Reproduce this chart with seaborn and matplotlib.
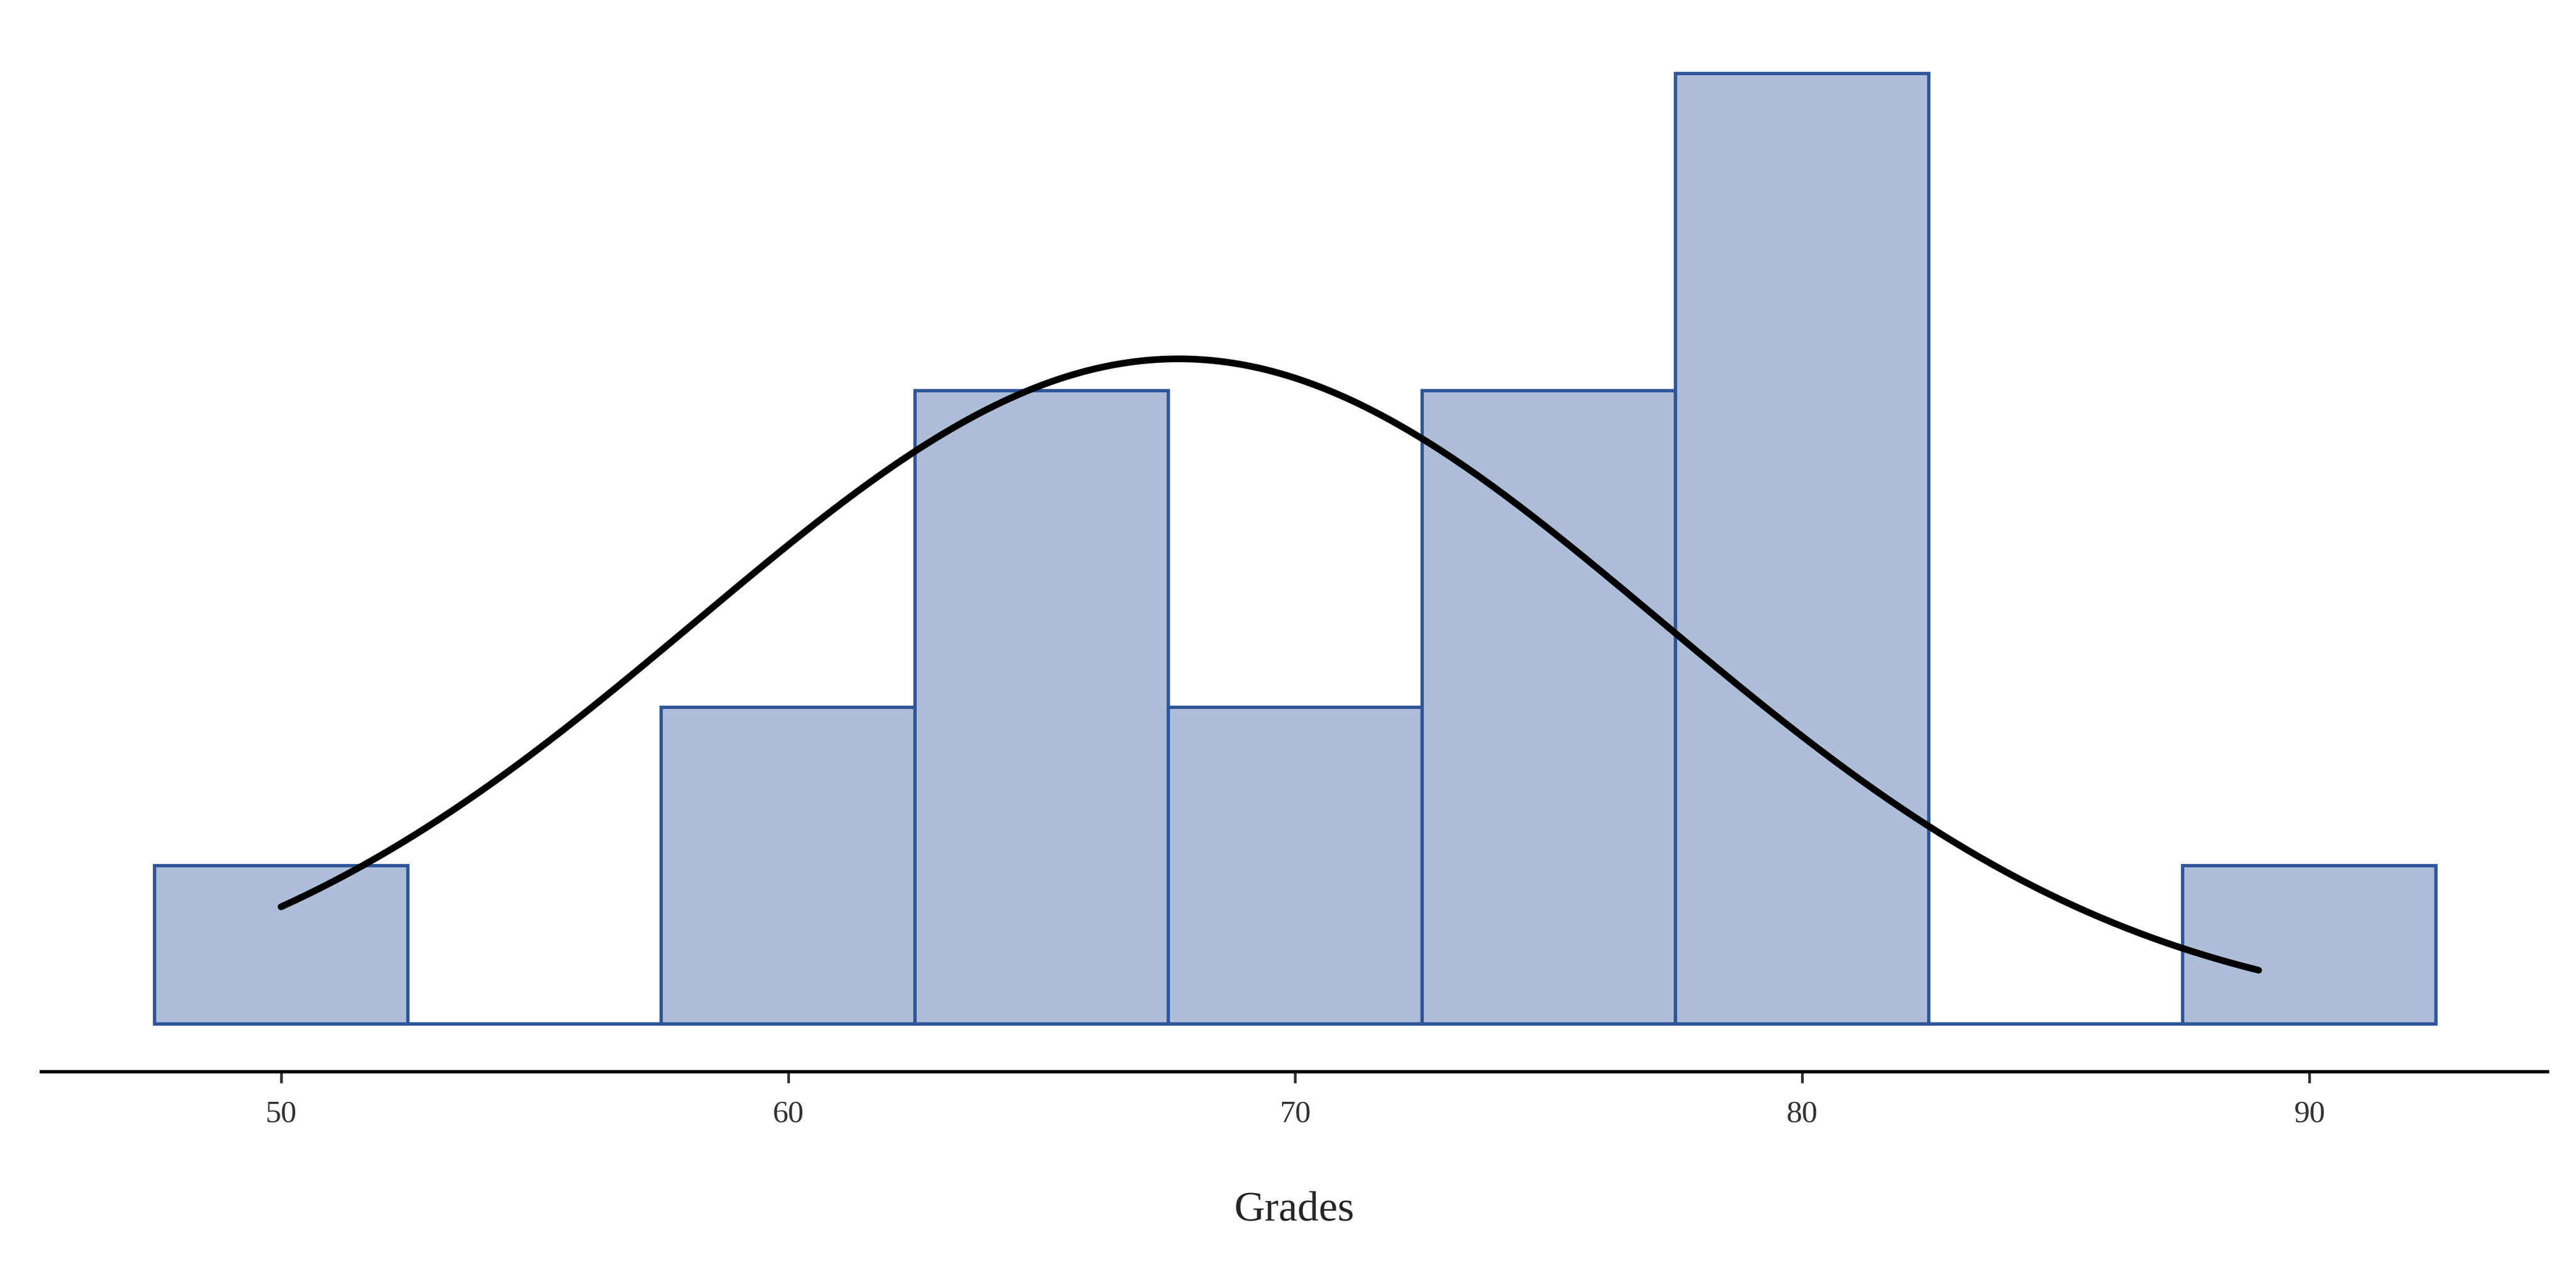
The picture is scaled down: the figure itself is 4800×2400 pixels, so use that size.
import numpy as np
import seaborn as sns
import matplotlib.pyplot as plt

# grades (bin width 5, centred on multiples of 5)
grades = [50,
          59, 61,
          63, 64, 66, 67,
          69, 71,
          73, 74, 76, 77,
          78, 79, 80, 80, 81, 82,
          90]
bin_edges = np.arange(47.5, 93, 5)

# fitted normal curve shown on the chart
curve_mu = 67.7
curve_sigma = 9.5
curve_start, curve_end = 50, 89

sns.set_theme(style='white')
plt.rcParams['font.family'] = ['Liberation Serif', 'DejaVu Serif']

fig = plt.figure(figsize=(16, 8), dpi=300)
ax = fig.add_axes([0.016, 0.168, 0.973, 0.781])

sns.histplot(x=grades, bins=bin_edges, color='#adbdd8', alpha=1,
             edgecolor='#2f559a', linewidth=1.5, ax=ax)
# the empty bins still have their bottom edge drawn
ax.plot([bin_edges[0], bin_edges[-1]], [0, 0], color='#2f559a', lw=1.5, zorder=0.5)

xs = np.linspace(curve_start, curve_end, 300)
scale = len(grades) * 5 / (curve_sigma * np.sqrt(2 * np.pi))
ys = scale * np.exp(-0.5 * ((xs - curve_mu) / curve_sigma) ** 2)
ax.plot(xs, ys, color='black', lw=3)

ax.set_xlim(45.27, 94.7)
ax.set_ylim(-0.3, 6.05)
ax.set_xticks([50, 60, 70, 80, 90])
ax.tick_params(axis='x', bottom=True, length=5, width=1.2, labelsize=14,
               colors='#333333', pad=8)
ax.set_yticks([])
ax.set_ylabel('')
ax.set_xlabel('Grades', fontsize=19, labelpad=28)
for s in ['top', 'left', 'right']:
    ax.spines[s].set_visible(False)
ax.spines['bottom'].set_color('black')
ax.spines['bottom'].set_linewidth(1.5)

fig.savefig('out.png', dpi=300)
